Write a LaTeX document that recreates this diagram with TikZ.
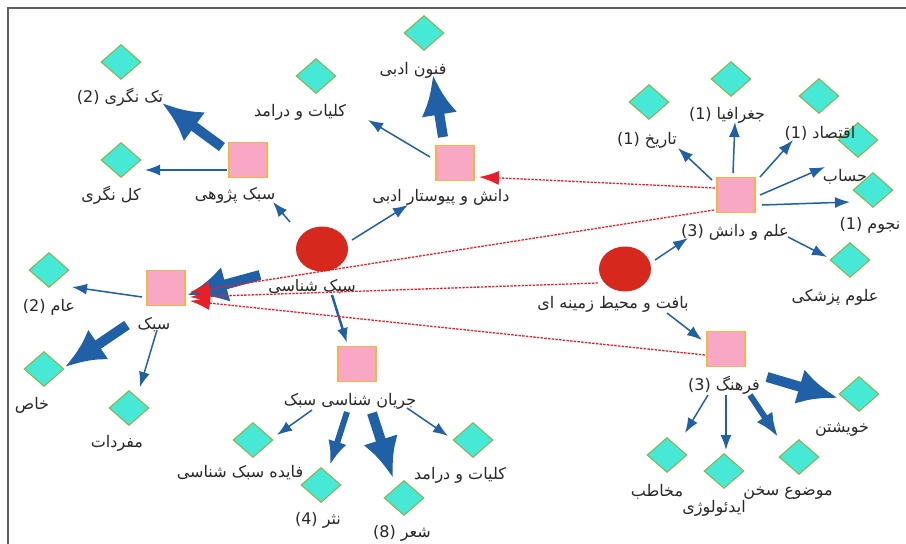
\documentclass[tikz,border=0pt]{standalone}
\usepackage{fontspec}
\newfontfamily\arfont[Script=Arabic]{DejaVu Sans}
\newfontfamily\latfont{DejaVu Sans}
\TeXXeTstate=1
\usetikzlibrary{shapes.geometric,arrows.meta}
\definecolor{pinkfill}{RGB}{248,168,196}
\definecolor{pinkdraw}{RGB}{245,180,70}
\definecolor{dia}{RGB}{70,232,214}
\definecolor{diadraw}{RGB}{140,180,70}
\definecolor{circ}{RGB}{214,40,28}
\definecolor{arr}{RGB}{32,96,166}
\definecolor{redl}{RGB}{232,30,40}
\definecolor{txt}{RGB}{40,40,40}
\definecolor{frame}{RGB}{95,95,95}
\newcommand\fa[1]{{\arfont\beginR #1\endR}}
\newcommand\nm[1]{\beginL{\latfont #1}\endL}
\tikzset{
 pbox/.style={rectangle, fill=pinkfill, draw=pinkdraw, line width=1.6pt, minimum width=38pt, minimum height=35pt, inner sep=0pt},
 rcirc/.style={ellipse, fill=circ, minimum width=52pt, minimum height=45pt, inner sep=0pt},
 dmd/.style={diamond, fill=dia, draw=diadraw, line width=1pt, minimum width=40pt, minimum height=35pt, inner sep=0pt},
 lbl/.style={font=\arfont\fontsize{16}{18}\selectfont, text=txt, inner sep=1pt},
 thinarr/.style={draw=arr, line width=1.5pt, -{Latex[length=15pt,width=11pt]}},
 midarr/.style={draw=arr, line width=6pt, -{Latex[length=24pt,width=19pt]}},
 thickarr/.style={draw=arr, line width=10pt, -{Latex[length=40pt,width=36pt]}},
 redarr/.style={draw=redl, line width=1.3pt, dash pattern=on 2.5pt off 1.2pt, -{Latex[length=20pt,width=14pt]}},
}
\begin{document}
\begin{tikzpicture}[x=1pt,y=-1pt]
\useasboundingbox (0,0) rectangle (906,544);
\fill[white] (0,0) rectangle (906,544);
\draw[line width=2pt, draw=frame] (8,544) -- (8,8) -- (906,8);

% squares
\node[pbox] (S1) at (248,160) {};
\node[pbox] (S2) at (455,163) {};
\node[pbox] (S3) at (736,195) {};
\node[pbox] (S4) at (166,288) {};
\node[pbox] (S5) at (357,364) {};
\node[pbox] (S6) at (726,349) {};
% circles
\node[rcirc] (C1) at (322,249) {};
\node[rcirc] (C2) at (625,269) {};
% diamonds
\node[dmd] (Dtak) at (121,62) {};
\node[dmd] (Dkol) at (121,160) {};
\node[dmd] (Dkol1) at (316,76) {};
\node[dmd] (Dfon) at (424,33) {};
\node[dmd] (Dtar) at (649,102) {};
\node[dmd] (Djog) at (731,79) {};
\node[dmd] (Deqt) at (819,96) {};
\node[dmd] (Dhes) at (858,140) {};
\node[dmd] (Dnoj) at (873,190) {};
\node[dmd] (Dolum) at (850,260) {};
\node[dmd] (Dam) at (49,270) {};
\node[dmd] (Dkhas) at (44,369) {};
\node[dmd] (Dmof) at (129,408) {};
\node[dmd] (Dfay) at (253,440) {};
\node[dmd] (Dnas) at (321,485) {};
\node[dmd] (Dsher) at (404,498) {};
\node[dmd] (Dkol2) at (473,440) {};
\node[dmd] (Dkhish) at (859,394) {};
\node[dmd] (Dmokh) at (667,455) {};
\node[dmd] (Did) at (724,471) {};
\node[dmd] (Dmow) at (799,457) {};

% labels
\node[lbl] (Ltak) at (120,97) {\fa{تک نگری \nm{(2)}}};
\node[lbl] (Lkol) at (111,195) {\fa{کل نگری}};
\node[lbl] (Ls1) at (235,195) {\fa{سبک پژوهی}};
\node[lbl] (Lkol1) at (300,112) {\fa{کلیات و درامد}};
\node[lbl] (Lfon) at (413,70) {\fa{فنون ادبی}};
\node[lbl] (Ls2) at (441,197) {\fa{دانش و پیوستار ادبی}};
\node[lbl] (Ltar) at (647,140) {\fa{تاریخ \nm{(1)}}};
\node[lbl] (Ljog) at (727,115) {\fa{جغرافیا \nm{(1)}}};
\node[lbl] (Leqt) at (820,133) {\fa{اقتصاد \nm{(1)}}};
\node[lbl] (Lhes) at (845,177) {\fa{حساب}};
\node[lbl] (Lnoj) at (870,225) {\fa{نجوم \nm{(1)}}};
\node[lbl] (Ls3) at (735,232) {\fa{علم و دانش \nm{(3)}}};
\node[lbl] (Lolum) at (835,297) {\fa{علوم پزشکی}};
\node[lbl] (Lc1) at (312,287) {\fa{سبک شناسی}};
\node[lbl] (Lam) at (49,307) {\fa{عام \nm{(2)}}};
\node[lbl] (Ls4) at (154,325) {\fa{سبک}};
\node[lbl] (Lkhas) at (32,405) {\fa{خاص}};
\node[lbl] (Lmof) at (117,443) {\fa{مفردات}};
\node[lbl] (Lc2) at (613,304) {\fa{بافت و محیط زمینه ای}};
\node[lbl] (Ls5) at (350,401) {\fa{جریان شناسی سبک}};
\node[lbl] (Lfay) at (240,473) {\fa{فایده سبک شناسی}};
\node[lbl] (Lnas) at (318,520) {\fa{نثر \nm{(4)}}};
\node[lbl] (Lsher) at (402,533) {\fa{شعر \nm{(8)}}};
\node[lbl] (Lkol2) at (460,475) {\fa{کلیات و درامد}};
\node[lbl] (Ls6) at (724,385) {\fa{فرهنگ \nm{(3)}}};
\node[lbl] (Lkhish) at (842,430) {\fa{خویشتن}};
\node[lbl] (Lmokh) at (657,492) {\fa{مخاطب}};
\node[lbl] (Lid) at (714,508) {\fa{ایدئولوژی}};
\node[lbl] (Lmow) at (788,493) {\fa{موضوع سخن}};

% blue connectors
\draw[thickarr] ([shift={(-26,-13)}]S1.center) -- ([shift={(41,41)}]Dtak.center);
\draw[thinarr] ([shift={(-21,10)}]S1.center) -- ([shift={(24,10)}]Dkol.center);
\draw[thinarr] ([shift={(-32,-27)}]C1.center) -- ([shift={(25,42)}]S1.center);
\draw[thinarr] ([shift={(30,-9)}]C1.center) -- ([shift={(-47,42)}]S2.center);
\draw[thinarr] ([shift={(-25,-6)}]S2.center) -- ([shift={(52,44)}]Dkol1.center);
\draw[thickarr] ([shift={(-12,-26)}]S2.center) -- ([shift={(9,42)}]Dfon.center);
\draw[thickarr] ([shift={(-62,26)}]C1.center) -- ([shift={(21,7)}]S4.center);
\draw[thinarr] ([shift={(-24,9)}]S4.center) -- ([shift={(23,17)}]Dam.center);
\draw[thickarr] ([shift={(-39,37)}]S4.center) -- ([shift={(21,-2)}]Dkhas.center);
\draw[thinarr] ([shift={(-9,42)}]S4.center) -- ([shift={(11,-21)}]Dmof.center);
\draw[thinarr, line width=2.5pt] ([shift={(10,46)}]C1.center) -- ([shift={(-10,-21)}]S5.center);
\draw[thinarr] ([shift={(-45,46)}]S5.center) -- ([shift={(24,-5)}]Dfay.center);
\draw[midarr] ([shift={(-10,48)}]S5.center) -- ([shift={(9,-20)}]Dnas.center);
\draw[thickarr] ([shift={(15,49)}]S5.center) -- ([shift={(-11,-20)}]Dsher.center);
\draw[thinarr] ([shift={(50,44)}]S5.center) -- ([shift={(-25,-4)}]Dkol2.center);
\draw[thinarr] ([shift={(30,-9)}]C2.center) -- ([shift={(-48,43)}]S3.center);
\draw[thinarr] ([shift={(42,44)}]C2.center) -- ([shift={(-24,-9)}]S6.center);
\draw[thinarr] ([shift={(-24,-15)}]S3.center) -- ([shift={(29,46)}]Dtar.center);
\draw[thinarr] ([shift={(-3,-22)}]S3.center) -- ([shift={(4,43)}]Djog.center);
\draw[thinarr] ([shift={(24,-18)}]S3.center) -- ([shift={(-26,44)}]Deqt.center);
\draw[thinarr] ([shift={(24,0)}]S3.center) -- ([shift={(-33,27)}]Dhes.center);
\draw[thinarr] ([shift={(26,10)}]S3.center) -- ([shift={(-23,12)}]Dnoj.center);
\draw[thinarr] ([shift={(52,42)}]S3.center) -- ([shift={(-23,-3)}]Dolum.center);
\draw[thickarr] ([shift={(41,28)}]S6.center) -- ([shift={(-21,4)}]Dkhish.center);
\draw[thinarr] ([shift={(-18,46)}]S6.center) -- ([shift={(18,-22)}]Dmokh.center);
\draw[thinarr] ([shift={(0,46)}]S6.center) -- ([shift={(2,-21)}]Did.center);
\draw[midarr] ([shift={(24,46)}]S6.center) -- ([shift={(-21,-20)}]Dmow.center);

% red dashed connectors
\draw[redarr] ([shift={(-21,-7)}]S3.center) -- ([shift={(24,14)}]S2.center);
\draw[redarr] ([shift={(-22,15)}]S3.center) -- ([shift={(24,4)}]S4.center);
\draw[redarr] ([shift={(-27,14)}]C2.center) -- ([shift={(24,9)}]S4.center);
\draw[redarr] ([shift={(-21,6)}]S6.center) -- ([shift={(24,13)}]S4.center);
\end{tikzpicture}
\end{document}
